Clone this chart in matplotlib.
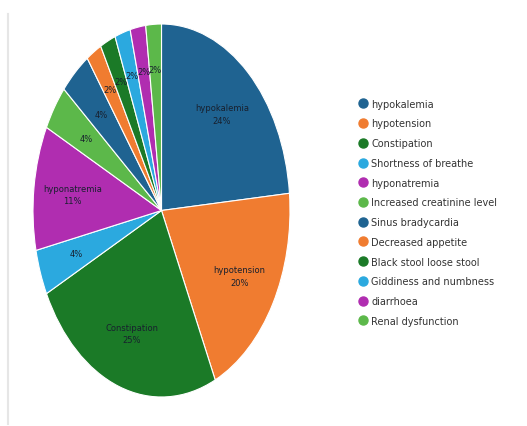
import numpy as np
import matplotlib.pyplot as plt
from matplotlib.lines import Line2D

categories = ["hypokalemia", "hypotension", "Constipation", "Shortness of breathe",
              "hyponatremia", "Increased creatinine level", "Sinus bradycardia",
              "Decreased appetite", "Black stool loose stool", "Giddiness and numbness",
              "diarrhoea", "Renal dysfunction"]
percent = [24, 20, 25, 4, 11, 4, 4, 2, 2, 2, 2, 2]
inner_names = ["hypokalemia", "hypotension", "Constipation", None,
               "hyponatremia", None, None, None, None, None, None, None]

palette = ["#1f6391", "#f07c30", "#1b7a27", "#2ba9df", "#b02db0", "#5cb84a"]
colors = [palette[i % 6] for i in range(len(categories))]


def main():
    fig = plt.figure(figsize=(5.27, 4.27), dpi=100)
    # thin grey rule down the left edge
    fig.add_artist(Line2D([0.016, 0.016], [0.005, 0.965], color="#e6e6e6", lw=1.5))

    ax = fig.add_axes([33 / 527, 1 - 398 / 427, 257 / 527, 373 / 427])
    wedges, _ = ax.pie(percent, colors=colors, startangle=90, counterclock=False,
                       wedgeprops=dict(edgecolor="white", linewidth=0.8))
    ax.set_aspect("auto")
    ax.set_xlim(-1, 1)
    ax.set_ylim(-1, 1)
    ax.axis("off")

    for w, name, p in zip(wedges, inner_names, percent):
        mid = np.deg2rad((w.theta1 + w.theta2) / 2)
        r = 0.7 if p > 2 else 0.76
        x, y = r * np.cos(mid), r * np.sin(mid)
        txt = f"{name}\n{p}%" if name else f"{p}%"
        ax.text(x, y, txt, ha="center", va="center", fontsize=6,
                color="#18202e", linespacing=1.5)

    handles = [Line2D([], [], marker="o", linestyle="", markersize=6.5,
                      markerfacecolor=c, markeredgecolor=c) for c in colors]
    fig.legend(handles, categories, loc="upper left",
               bbox_to_anchor=(348 / 527, 1 - 91 / 427), frameon=False,
               fontsize=7, handletextpad=0.3, labelspacing=1.0,
               handlelength=1.2, labelcolor="#333333")

    fig.savefig("out.png", dpi=100, facecolor="white")


if __name__ == "__main__":
    main()
